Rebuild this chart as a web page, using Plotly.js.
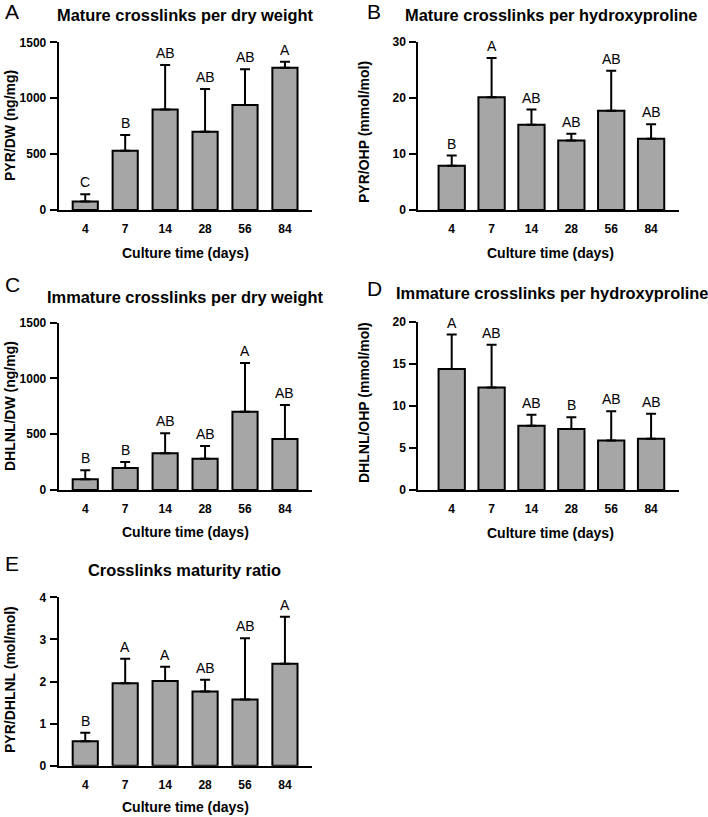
<!DOCTYPE html>
<html>
<head>
<meta charset="utf-8">
<script src="https://cdn.plot.ly/plotly-3.0.1.min.js"></script>
<style>html,body{margin:0;padding:0;background:#fff;}#chart{width:708px;height:817px;}</style>
</head>
<body>
<div id="chart"></div>
<script>
// ---- data ----
const days = ['4', '7', '14', '28', '56', '84'];

const pyrDW = [75, 530, 900, 700, 939, 1273];
const pyrDWsd = [65, 141, 397, 382, 319, 54];
const pyrDWletters = ['C', 'B', 'AB', 'AB', 'AB', 'A'];

const pyrOHP = [7.9, 20.1, 15.2, 12.4, 17.7, 12.7];
const pyrOHPsd = [1.8, 7.0, 2.7, 1.2, 7.1, 2.6];
const pyrOHPletters = ['B', 'A', 'AB', 'AB', 'AB', 'AB'];

const dhlnlDW = [96, 197, 329, 281, 702, 457];
const dhlnlDWsd = [81, 54, 179, 113, 437, 305];
const dhlnlDWletters = ['B', 'B', 'AB', 'AB', 'A', 'AB'];

const dhlnlOHP = [14.4, 12.2, 7.65, 7.26, 5.9, 6.1];
const dhlnlOHPsd = [4.1, 5.1, 1.32, 1.39, 3.47, 2.98];
const dhlnlOHPletters = ['A', 'AB', 'AB', 'B', 'AB', 'AB'];

const ratio = [0.58, 1.96, 2.01, 1.76, 1.57, 2.42];
const ratioSd = [0.20, 0.58, 0.34, 0.28, 1.46, 1.12];
const ratioLetters = ['B', 'A', 'A', 'AB', 'AB', 'A'];

const W = 708, H = 817;
const FONT = 'Liberation Sans, Arial, sans-serif';
const px = v => v / W;
const py = v => 1 - v / H;

const panels = [
  {letter: 'A', title: 'Mature crosslinks per dry weight', ytitle: 'PYR/DW (ng/mg)',
   y: pyrDW, sd: pyrDWsd, lab: pyrDWletters, yr: [0, 1500], dt: 500,
   x0: 58.7, x1: 311.7, top: 42.3, bot: 210, xr: [-0.665, 5.67], bw: 0.63,
   lx: 3, ly: 12, tx: 185, ty: 15, ytx: 10, yty: 126, xtx: 185, xty: 253},
  {letter: 'B', title: 'Mature crosslinks per hydroxyproline', ytitle: 'PYR/OHP (mmol/mol)',
   y: pyrOHP, sd: pyrOHPsd, lab: pyrOHPletters, yr: [0, 30], dt: 10,
   x0: 418.3, x1: 679, top: 41.7, bot: 210, xr: [-0.838, 5.70], bw: 0.66,
   lx: 365, ly: 12, tx: 550.5, ty: 15, ytx: 364, yty: 132, xtx: 550.7, xty: 253},
  {letter: 'C', title: 'Immature crosslinks per dry weight', ytitle: 'DHLNL/DW (ng/mg)',
   y: dhlnlDW, sd: dhlnlDWsd, lab: dhlnlDWletters, yr: [0, 1500], dt: 500,
   x0: 58.7, x1: 311.7, top: 322.7, bot: 490, xr: [-0.665, 5.67], bw: 0.63,
   lx: 3, ly: 284, tx: 185, ty: 296.7, ytx: 10, yty: 406, xtx: 185, xty: 531.7},
  {letter: 'D', title: 'Immature crosslinks per hydroxyproline', ytitle: 'DHLNL/OHP (mmol/mol)',
   y: dhlnlOHP, sd: dhlnlOHPsd, lab: dhlnlOHPletters, yr: [0, 20], dt: 5,
   x0: 418.3, x1: 679, top: 322, bot: 490, xr: [-0.838, 5.70], bw: 0.66,
   lx: 365, ly: 288, tx: 551.5, ty: 293, ytx: 364, yty: 403, xtx: 550.7, xty: 533},
  {letter: 'E', title: 'Crosslinks maturity ratio', ytitle: 'PYR/DHLNL (mol/mol)',
   y: ratio, sd: ratioSd, lab: ratioLetters, yr: [0, 4], dt: 1,
   x0: 58.7, x1: 311.7, top: 597.3, bot: 765.7, xr: [-0.665, 5.67], bw: 0.63,
   lx: 3, ly: 563, tx: 184, ty: 570, ytx: 10, yty: 680, xtx: 185, xty: 806.7}
];

const traces = [];
const layout = {
  width: W, height: H,
  margin: {l: 0, r: 0, t: 0, b: 0},
  paper_bgcolor: '#fff', plot_bgcolor: '#fff',
  showlegend: false,
  font: {family: FONT, color: '#000'},
  annotations: []
};

panels.forEach((p, i) => {
  const n = i + 1;
  const xa = n === 1 ? 'x' : 'x' + n;
  const ya = n === 1 ? 'y' : 'y' + n;
  traces.push({
    type: 'bar', x: days, y: p.y, xaxis: xa, yaxis: ya, width: p.bw,
    marker: {color: '#a6a6a6', line: {color: '#000', width: 2}},
    error_y: {type: 'data', symmetric: false, array: p.sd, arrayminus: p.sd.map(() => 0),
              color: '#000', thickness: 2, width: 5},
    hoverinfo: 'x+y'
  });
  layout['xaxis' + (n === 1 ? '' : n)] = {
    domain: [px(p.x0), px(p.x1)], anchor: ya, type: 'category', range: p.xr,
    showline: true, linecolor: '#000', linewidth: 2, ticks: '', showgrid: false, zeroline: false,
    tickfont: {family: FONT, size: 12, weight: 'bold', color: '#000'}, ticklabelstandoff: 7,
    fixedrange: true
  };
  layout['yaxis' + (n === 1 ? '' : n)] = {
    domain: [py(p.bot), py(p.top)], anchor: xa, range: p.yr, dtick: p.dt, tick0: 0,
    showline: true, linecolor: '#000', linewidth: 2, ticks: 'outside', ticklen: 7, tickwidth: 2, tickcolor: '#000',
    showgrid: false, zeroline: false,
    tickfont: {family: FONT, size: 12, weight: 'bold', color: '#000'}, ticklabelstandoff: 1,
    fixedrange: true
  };
  // panel letter
  layout.annotations.push({xref: 'paper', yref: 'paper', x: px(p.lx), y: py(p.ly), xanchor: 'left', yanchor: 'middle',
    text: p.letter, showarrow: false, font: {family: FONT, size: 21, color: '#000'}});
  // title
  layout.annotations.push({xref: 'paper', yref: 'paper', x: px(p.tx), y: py(p.ty), xanchor: 'center', yanchor: 'middle',
    text: '<b>' + p.title + '</b>', showarrow: false, font: {family: FONT, size: 16.4, color: '#000'}});
  // y title
  layout.annotations.push({xref: 'paper', yref: 'paper', x: px(p.ytx), y: py(p.yty), xanchor: 'center', yanchor: 'middle',
    textangle: -90, text: '<b>' + p.ytitle + '</b>', showarrow: false, font: {family: FONT, size: 14, color: '#000'}});
  // x title
  layout.annotations.push({xref: 'paper', yref: 'paper', x: px(p.xtx), y: py(p.xty), xanchor: 'center', yanchor: 'middle',
    text: '<b>Culture time (days)</b>', showarrow: false, font: {family: FONT, size: 14, color: '#000'}});
  // significance letters (x given as category index)
  days.forEach((d, j) => {
    layout.annotations.push({xref: xa, yref: ya, x: j, y: p.y[j] + p.sd[j], xanchor: 'center', yanchor: 'bottom',
      yshift: 2, text: p.lab[j], showarrow: false, font: {family: FONT, size: 14, color: '#000'}});
  });
});

Plotly.newPlot('chart', traces, layout, {displayModeBar: false, staticPlot: true});
</script>
</body>
</html>
